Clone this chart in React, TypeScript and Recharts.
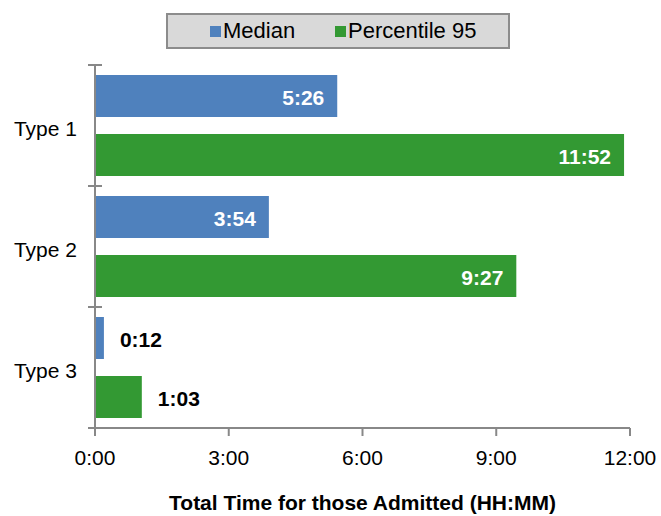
import React from "react";
import { BarChart, Bar, XAxis, YAxis, Legend, LabelList } from "recharts";

const categories = ["Type 1", "Type 2", "Type 3"];
// minutes
const medianMinutes = [326, 234, 12];
const p95Minutes = [712, 567, 63];
const xTicks = [0, 180, 360, 540, 720];

const seriesNames = { median: "Median", p95: "Percentile 95" };
const BLUE = "#4f81bd";
const GREEN = "#339933";
const AXIS = "#888888";
const FONT = "'Liberation Sans', Arial, sans-serif";

const W = 661;
const H = 516;
const TOP = 65;
const LEFT = 95;
const RIGHT = 31;
const XAXIS_H = 88;
const BAND = (H - TOP - XAXIS_H) / categories.length;

const data = categories.map((name, i) => ({
  name,
  median: medianMinutes[i],
  p95: p95Minutes[i],
}));

const hhmm = (m: number) => `${Math.floor(m / 60)}:${String(m % 60).padStart(2, "0")}`;

function CategoryTick(props: any) {
  const { y, payload, index } = props;
  const top = y - BAND / 2;
  return (
    <g>
      <line x1={LEFT - 7} x2={LEFT + 7} y1={top} y2={top} stroke={AXIS} strokeWidth={2} />
      {index === categories.length - 1 && (
        <line x1={LEFT - 7} x2={LEFT + 7} y1={top + BAND} y2={top + BAND} stroke={AXIS} strokeWidth={2} />
      )}
      <text
        x={LEFT - 18}
        y={y + 3}
        textAnchor="end"
        dominantBaseline="central"
        fontSize={21}
        fontFamily={FONT}
        fill="#000"
      >
        {payload.value}
      </text>
    </g>
  );
}

function ValueLabel(props: any) {
  const { x, y, width, height, value } = props;
  const inside = value >= 180;
  return (
    <text
      x={inside ? x + width - 13 : x + width + 16}
      y={y + height / 2 + 1}
      textAnchor={inside ? "end" : "start"}
      dominantBaseline="central"
      fontSize={21}
      fontWeight="bold"
      fontFamily={FONT}
      fill={inside ? "#fff" : "#000"}
    >
      {hhmm(value)}
    </text>
  );
}

function LegendBox() {
  const item = (color: string, label: string, width?: number) => (
    <span style={{ display: "flex", alignItems: "center", width }}>
      <span style={{ width: 11, height: 11, background: color, marginRight: 2, marginTop: 1 }} />
      <span>{label}</span>
    </span>
  );
  return (
    <div
      style={{
        boxSizing: "border-box",
        width: 344,
        height: 36,
        background: "#d9d9d9",
        border: "2px solid #8c8c8c",
        display: "flex",
        alignItems: "center",
        paddingLeft: 42,
        fontFamily: FONT,
        fontSize: 22,
        color: "#000",
      }}
    >
      {item(BLUE, seriesNames.median, 125)}
      {item(GREEN, seriesNames.p95)}
    </div>
  );
}

export default function App() {
  return (
    <div style={{ position: "absolute", left: 0, top: 0, width: W, height: H, background: "#fff" }}>
      <BarChart
        width={W}
        height={H}
        data={data}
        layout="vertical"
        margin={{ top: TOP, right: RIGHT, bottom: 0, left: 0 }}
        barSize={42}
        barGap={17}
      >
        <XAxis
          type="number"
          domain={[0, 720]}
          ticks={xTicks}
          tickFormatter={hhmm}
          height={XAXIS_H}
          axisLine={{ stroke: AXIS, strokeWidth: 2 }}
          tickLine={{ stroke: AXIS, strokeWidth: 2 }}
          tickSize={8}
          tickMargin={14}
          tick={{ fill: "#000", fontSize: 21, fontFamily: FONT }}
          label={{
            value: "Total Time for those Admitted (HH:MM)",
            position: "insideBottom",
            offset: 6,
            style: { fill: "#000", fontSize: 21, fontWeight: "bold", fontFamily: FONT },
          }}
        />
        <YAxis
          type="category"
          dataKey="name"
          width={LEFT}
          axisLine={{ stroke: AXIS, strokeWidth: 2 }}
          tickLine={false}
          tick={<CategoryTick />}
        />
        <Legend
          layout="horizontal"
          verticalAlign="middle"
          align="center"
          wrapperStyle={{ top: 13, left: 166, width: 344 }}
          content={() => <LegendBox />}
        />
        <Bar dataKey="median" name={seriesNames.median} fill={BLUE} isAnimationActive={false}>
          <LabelList dataKey="median" content={<ValueLabel />} />
        </Bar>
        <Bar dataKey="p95" name={seriesNames.p95} fill={GREEN} isAnimationActive={false}>
          <LabelList dataKey="p95" content={<ValueLabel />} />
        </Bar>
      </BarChart>
    </div>
  );
}
